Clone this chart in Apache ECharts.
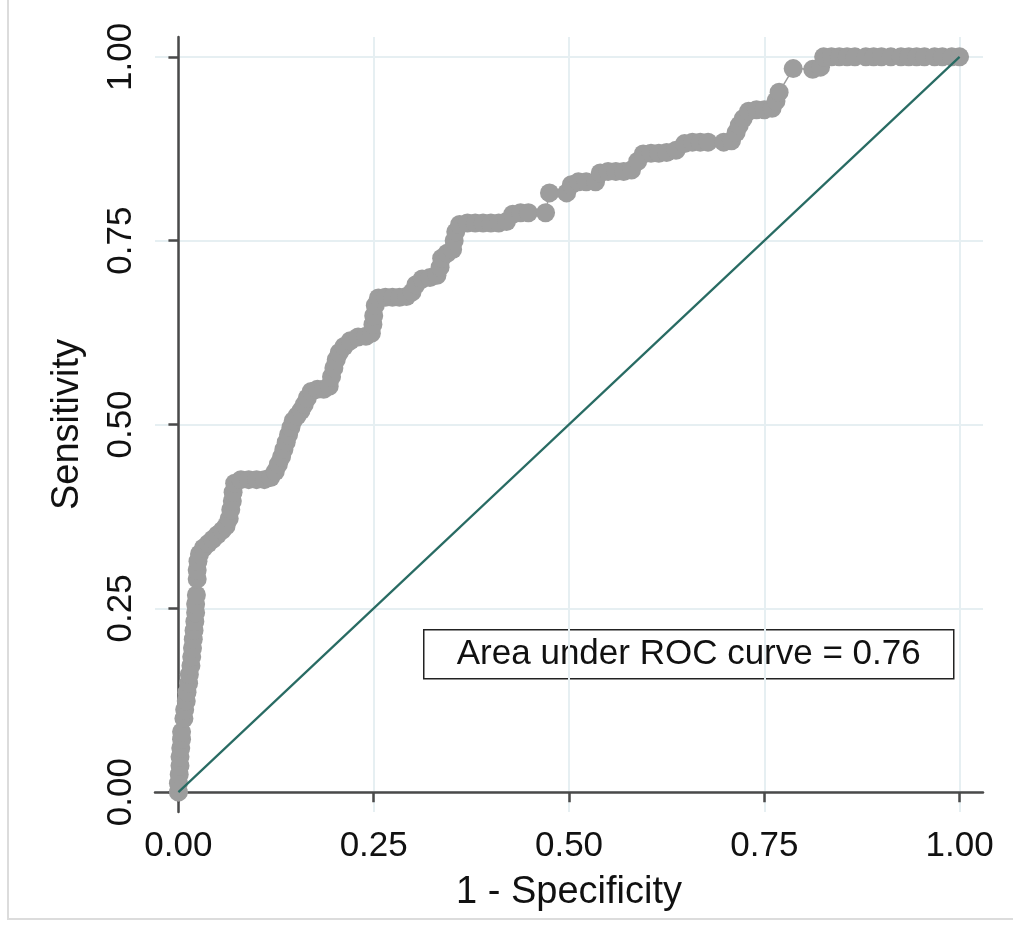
<!DOCTYPE html>
<html>
<head>
<meta charset="utf-8">
<title>ROC curve</title>
<script src="https://cdn.jsdelivr.net/npm/echarts@6/dist/echarts.min.js"></script>
<style>
  html, body { margin: 0; padding: 0; background: #fff; }
  #chart { width: 1013px; height: 930px; }
</style>
</head>
<body>
<div id="chart"></div>
<script>
// 1 - specificity (false positive rate) for each cutoff
const fpr = [
  0.000, 0.000, 0.001, 0.002, 0.002, 0.003, 0.004, 0.004,
  0.007, 0.008, 0.010, 0.011, 0.013, 0.014, 0.016, 0.017, 0.018, 0.019, 0.020, 0.021, 0.022, 0.022, 0.023,
  0.024, 0.024, 0.025, 0.027, 0.032, 0.038, 0.044, 0.050, 0.056, 0.061, 0.065, 0.067, 0.069, 0.070, 0.072,
  0.080, 0.090, 0.100, 0.110, 0.118,
  0.124, 0.128, 0.132, 0.135, 0.138, 0.141, 0.144, 0.147, 0.152, 0.157, 0.161, 0.165, 0.170, 0.178, 0.186, 0.193,
  0.196, 0.199, 0.202, 0.206, 0.212, 0.220, 0.230, 0.240, 0.247, 0.249, 0.250, 0.252, 0.256, 0.265, 0.274, 0.283,
  0.292, 0.299, 0.304, 0.312, 0.322, 0.331, 0.335, 0.337, 0.344, 0.351, 0.353, 0.355, 0.360, 0.370, 0.380, 0.390,
  0.400, 0.410, 0.420, 0.428, 0.438, 0.448,
  0.470, 0.475, 0.497, 0.503, 0.512, 0.522, 0.534, 0.540, 0.550, 0.560, 0.570, 0.580, 0.588, 0.595, 0.605, 0.615,
  0.625, 0.637, 0.648, 0.658, 0.668, 0.678, 0.698, 0.708, 0.714, 0.718, 0.723, 0.730, 0.740, 0.750, 0.760, 0.765,
  0.769, 0.787, 0.812, 0.822, 0.826, 0.836, 0.846, 0.856, 0.866, 0.880, 0.890, 0.900, 0.912, 0.925, 0.935, 0.945,
  0.955, 0.968, 0.978, 0.990, 1.000
];
// sensitivity (true positive rate) for the same cutoffs
const tpr = [
  0.000, 0.012, 0.024, 0.036, 0.048, 0.060, 0.072, 0.082,
  0.100, 0.112, 0.124, 0.136, 0.148, 0.160, 0.172, 0.184, 0.196, 0.208, 0.220, 0.232, 0.244, 0.256, 0.268,
  0.290, 0.302, 0.314, 0.324, 0.332, 0.338, 0.344, 0.350, 0.356, 0.362, 0.372, 0.384, 0.396, 0.408, 0.420,
  0.425, 0.425, 0.425, 0.425, 0.428,
  0.436, 0.446, 0.456, 0.466, 0.476, 0.486, 0.496, 0.505, 0.512, 0.519, 0.527, 0.536, 0.545, 0.548, 0.548, 0.552,
  0.565, 0.577, 0.588, 0.598, 0.606, 0.614, 0.619, 0.620, 0.624, 0.636, 0.648, 0.662, 0.672, 0.673, 0.673, 0.673,
  0.674, 0.680, 0.690, 0.698, 0.700, 0.703, 0.714, 0.726, 0.733, 0.738, 0.750, 0.762, 0.772, 0.774, 0.774, 0.774,
  0.774, 0.774, 0.776, 0.786, 0.788, 0.788,
  0.788, 0.815, 0.815, 0.826, 0.830, 0.830, 0.830, 0.842, 0.844, 0.844, 0.844, 0.846, 0.858, 0.868, 0.869, 0.869,
  0.870, 0.873, 0.882, 0.884, 0.884, 0.884, 0.884, 0.886, 0.897, 0.907, 0.916, 0.926, 0.928, 0.928, 0.930, 0.940,
  0.952, 0.984, 0.983, 0.986, 1.000, 1.000, 1.000, 1.000, 1.000, 1.000, 1.000, 1.000, 1.000, 1.000, 1.000, 1.000,
  1.000, 1.000, 1.000, 1.000, 1.000
];
// reference (chance) line
const refX = [0, 1];
const refY = [0, 1];

const tickValues = [0, 0.25, 0.5, 0.75, 1];
const tickLabels = ['0.00', '0.25', '0.50', '0.75', '1.00'];
const aucText = 'Area under ROC curve = 0.76';

const font = '"Liberation Sans", Arial, Helvetica, sans-serif';
const axisColor = '#4a4a4a';
const gridColor = '#e6eff2';

const fmt = v => {
  const i = tickValues.findIndex(t => Math.abs(t - v) < 1e-6);
  return i >= 0 ? tickLabels[i] : '';
};

const chart = echarts.init(document.getElementById('chart'));
chart.setOption({
  animation: false,
  backgroundColor: '#fff',
  grid: { left: 155, right: 30, top: 37, bottom: 118, containLabel: false },
  xAxis: {
    type: 'value',
    min: -0.03,
    max: 1.03,
    name: '1 - Specificity',
    nameLocation: 'middle',
    nameGap: 62,
    nameTextStyle: { fontSize: 38, color: '#111', fontFamily: font },
    axisLine: { show: true, lineStyle: { color: axisColor, width: 2.5 } },
    axisTick: { show: true, length: 10, customValues: tickValues, lineStyle: { color: axisColor, width: 2.5 } },
    axisLabel: { customValues: tickValues, formatter: fmt, fontSize: 35, color: '#111', fontFamily: font, margin: 17 },
    splitLine: { show: true, lineStyle: { color: gridColor, width: 2 } }
  },
  yAxis: {
    type: 'value',
    min: -0.027,
    max: 1.027,
    name: 'Sensitivity',
    nameLocation: 'middle',
    nameRotate: 90,
    nameGap: 68,
    nameTextStyle: { fontSize: 38, color: '#111', fontFamily: font },
    axisLine: { show: true, lineStyle: { color: axisColor, width: 2.5 } },
    axisTick: { show: true, length: 10, customValues: tickValues, lineStyle: { color: axisColor, width: 2.5 } },
    axisLabel: { customValues: tickValues, formatter: fmt, rotate: 90, fontSize: 35, color: '#111', fontFamily: font, margin: 16 },
    splitLine: { show: true, lineStyle: { color: gridColor, width: 2 } }
  },
  series: [
    {
      name: 'ROC',
      type: 'line',
      data: fpr.map((x, i) => [x, tpr[i]]),
      symbol: 'circle',
      symbolSize: 19,
      showSymbol: true,
      showAllSymbol: true,
      itemStyle: { color: '#9d9d9d' },
      lineStyle: { color: '#9d9d9d', width: 1.5 },
      z: 2
    },
    {
      name: 'Reference',
      type: 'line',
      data: refX.map((x, i) => [x, refY[i]]),
      showSymbol: false,
      lineStyle: { color: '#286b63', width: 2.2 },
      z: 3
    }
  ],
  graphic: [
    {
      type: 'polyline',
      shape: { points: [[8, 0], [8, 919], [1013, 919]] },
      style: { stroke: '#dcdcdc', lineWidth: 2, fill: null },
      silent: true
    },
    {
      type: 'group',
      left: 423,
      top: 629,
      z: 10,
      children: [
        {
          type: 'rect',
          shape: { x: 0, y: 0, width: 530, height: 49 },
          style: { fill: '#fff', stroke: '#222', lineWidth: 1.5 }
        },
        {
          type: 'text',
          x: 265,
          y: 25,
          style: {
            text: aucText,
            fontSize: 35,
            fontFamily: font,
            fill: '#111',
            align: 'center',
            verticalAlign: 'middle'
          }
        }
      ]
    }
  ]
});
</script>
</body>
</html>
